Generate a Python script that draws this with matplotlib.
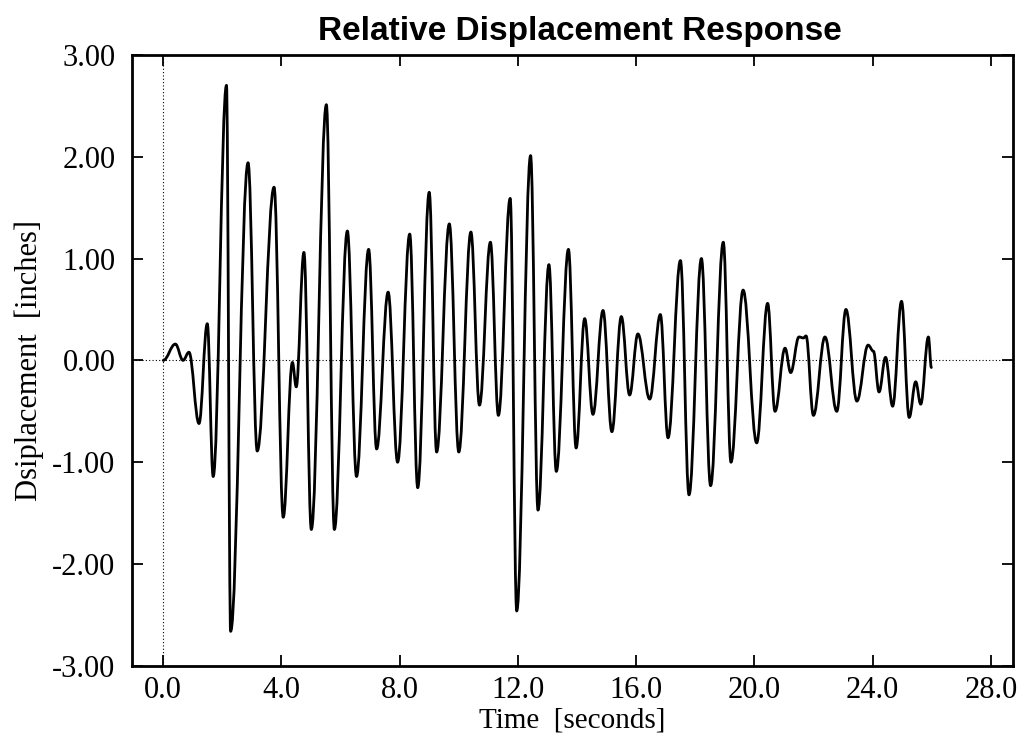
import matplotlib
matplotlib.use("Agg")
import matplotlib.pyplot as plt
from matplotlib.path import Path
from matplotlib.patches import PathPatch
from matplotlib.ticker import FormatStrFormatter

# peaks and troughs of the response trace
peak_times = [0.00, 0.41, 0.67, 0.87, 1.21, 1.49, 1.69, 2.14, 2.28, 2.87,
              3.18, 3.75, 4.06, 4.37, 4.50, 4.76, 5.01, 5.52, 5.79, 6.23,
              6.54, 6.95, 7.22, 7.61, 7.93, 8.34, 8.61, 9.00, 9.25, 9.68,
              10.00, 10.41, 10.70, 11.07, 11.34, 11.74, 11.96, 12.43, 12.68, 13.05,
              13.30, 13.71, 13.97, 14.26, 14.54, 14.88, 15.18, 15.50, 15.78, 16.06,
              16.46, 16.82, 17.08, 17.50, 17.79, 18.21, 18.52, 18.95, 19.21, 19.62,
              20.08, 20.45, 20.70, 21.04, 21.23, 21.51, 21.66, 21.75, 22.00, 22.39,
              22.79, 23.10, 23.47, 23.85, 24.03, 24.22, 24.44, 24.68, 24.98, 25.24,
              25.46, 25.63, 25.89, 25.99]
peak_values = [0.00, 0.16, 0.00, 0.08, -0.62, 0.36, -1.14, 2.70, -2.66, 1.94,
               -0.89, 1.70, -1.54, -0.02, -0.26, 1.06, -1.66, 2.51, -1.66, 1.27,
               -1.14, 1.09, -0.87, 0.67, -1.00, 1.24, -1.25, 1.65, -0.90, 1.34,
               -0.90, 1.26, -0.44, 1.16, -0.54, 1.59, -2.46, 2.01, -1.47, 0.94,
               -1.09, 1.09, -0.86, 0.41, -0.53, 0.49, -0.70, 0.43, -0.34, 0.26,
               -0.38, 0.45, -0.76, 0.98, -1.32, 1.00, -1.23, 1.16, -1.00, 0.69,
               -0.81, 0.56, -0.50, 0.12, -0.12, 0.23, 0.22, 0.24, -0.54, 0.23,
               -0.50, 0.50, -0.40, 0.15, 0.09, -0.31, 0.03, -0.45, 0.58, -0.56,
               -0.21, -0.43, 0.23, -0.07]

x_ticks = [0, 4, 8, 12, 16, 20, 24, 28]
y_ticks = [-3, -2, -1, 0, 1, 2, 3]

plt.rcParams['axes.unicode_minus'] = False
serif = 'Liberation Serif'

fig = plt.figure(figsize=(10.17, 7.5), dpi=100)
ax = fig.add_axes([0.130, 0.112, 0.866, 0.815])

# smooth trace: cubic segments with flat tangents at every extremum
verts = [(peak_times[0], peak_values[0])]
codes = [Path.MOVETO]
for i in range(1, len(peak_times)):
    t0, v0 = peak_times[i - 1], peak_values[i - 1]
    t1, v1 = peak_times[i], peak_values[i]
    dt = t1 - t0
    verts += [(t0 + 0.38 * dt, v0), (t1 - 0.38 * dt, v1), (t1, v1)]
    codes += [Path.CURVE4, Path.CURVE4, Path.CURVE4]
ax.add_patch(PathPatch(Path(verts, codes), facecolor='none',
                       edgecolor='black', lw=2.0, capstyle='round', joinstyle='round'))

ax.axhline(0, color='black', lw=0.8, ls=(0, (1, 2)))
ax.axvline(0, color='black', lw=0.8, ls=(0, (1, 2)))

ax.set_xlim(-1.05, 28.75)
ax.set_ylim(-3, 3)
ax.set_xticks(x_ticks)
ax.set_yticks(y_ticks)
ax.xaxis.set_major_formatter(FormatStrFormatter('%.1f'))
ax.yaxis.set_major_formatter(FormatStrFormatter('%.2f'))
ax.tick_params(direction='in', length=8, width=1.3, top=True, right=True,
               labelsize=22)
ax.tick_params(axis='x', pad=7)
ax.tick_params(axis='y', pad=12)
for lab in ax.get_xticklabels() + ax.get_yticklabels():
    lab.set_family(serif)
for sp in ax.spines.values():
    sp.set_linewidth(2)

ax.set_xlabel('Time  [seconds]', family=serif, fontsize=21, labelpad=2)
ax.set_ylabel('Dsiplacement  [inches]', family=serif, fontsize=22, labelpad=6)
fig.text(0.570, 0.958, 'Relative Displacement Response', ha='center', va='center',
         family='Liberation Sans', fontweight='bold', fontsize=24)

fig.savefig('out.png', dpi=100)
